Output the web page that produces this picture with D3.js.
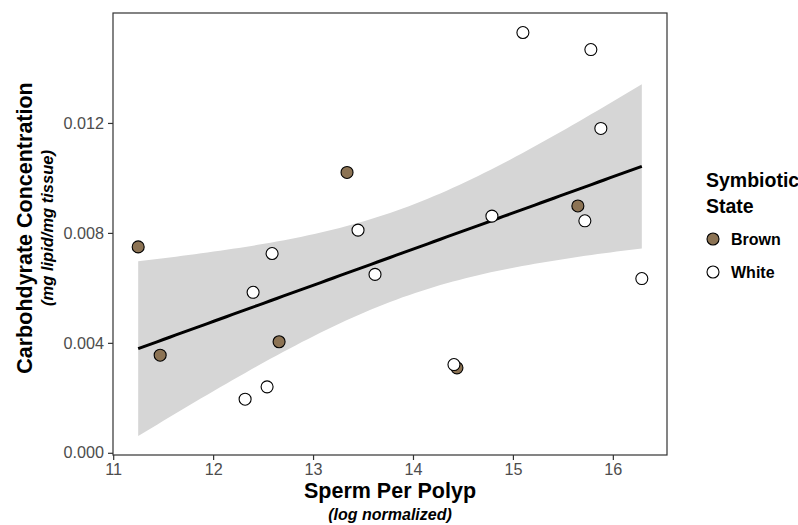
<!DOCTYPE html>
<html>
<head>
<meta charset="utf-8">
<script src="https://cdn.jsdelivr.net/npm/d3@7"></script>
<style>
  body { margin: 0; background: #fff; }
  svg { display: block; font-family: "Liberation Sans", Arial, sans-serif; }
</style>
</head>
<body>
<svg id="chart" width="798" height="525"></svg>
<script>
// values
const brownSperm = [11.25, 11.47, 12.66, 13.34, 14.44, 15.65];
const brownCarb = [0.00749, 0.00355, 0.00404, 0.01020, 0.00309, 0.00898];
const whiteSperm = [12.32, 12.40, 12.54, 12.59, 13.45, 13.62, 14.41, 14.79, 15.10, 15.72, 15.78, 15.88, 16.29];
const whiteCarb = [0.00195, 0.00584, 0.00240, 0.00725, 0.00810, 0.00649, 0.00321, 0.00861, 0.01529, 0.00844, 0.01467, 0.01180, 0.00634];
const xTicks = [11, 12, 13, 14, 15, 16];
const yTicks = [0, 0.004, 0.008, 0.012];
const states = ['Brown', 'White'];
const stateColors = ['#8c7354', '#ffffff'];

const svg = d3.select('#chart');
const panel = { left: 113, right: 667, top: 13, bottom: 455 };

const x = d3.scaleLinear().domain([10.998, 16.542]).range([panel.left, panel.right]);
const y = d3.scaleLinear().domain([-0.00008, 0.016]).range([panel.bottom, panel.top]);

// all points together for the linear fit
let points = [];
brownSperm.forEach((v, i) => points.push({ x: v, y: brownCarb[i], state: 'Brown' }));
whiteSperm.forEach((v, i) => points.push({ x: v, y: whiteCarb[i], state: 'White' }));

/**
 * ordinary least squares with a 95% confidence band, like geom_smooth(method = lm)
 */
function linearFit(data) {
    const n = data.length;
    const mx = d3.mean(data, d => d.x);
    const my = d3.mean(data, d => d.y);
    let sxx = 0, sxy = 0;
    data.forEach(d => {
        sxx += (d.x - mx) * (d.x - mx);
        sxy += (d.x - mx) * (d.y - my);
    });
    const slope = sxy / sxx;
    const icpt = my - slope * mx;
    let sse = 0;
    data.forEach(d => {
        const r = d.y - (icpt + slope * d.x);
        sse += r * r;
    });
    const s = Math.sqrt(sse / (n - 2));
    const t = 2.1098; // t(0.975, df = 17)
    const [x0, x1] = d3.extent(data, d => d.x);
    const band = d3.range(81).map(i => {
        const xv = x0 + (x1 - x0) * i / 80;
        const fit = icpt + slope * xv;
        const se = s * Math.sqrt(1 / n + (xv - mx) * (xv - mx) / sxx);
        return { x: xv, fit: fit, lo: fit - t * se, hi: fit + t * se };
    });
    return band;
}

const band = linearFit(points);

svg.append('path')
    .datum(band)
    .attr('fill', '#d6d6d6')
    .attr('d', d3.area().x(d => x(d.x)).y0(d => y(d.lo)).y1(d => y(d.hi)));

svg.append('path')
    .datum(band)
    .attr('fill', 'none')
    .attr('stroke', '#000')
    .attr('stroke-width', 3)
    .attr('d', d3.line().x(d => x(d.x)).y(d => y(d.fit)));

// brown first so the white ones sit on top
svg.append('g')
    .selectAll('circle')
    .data(points)
    .join('circle')
    .attr('cx', d => x(d.x))
    .attr('cy', d => y(d.y))
    .attr('r', 6)
    .attr('fill', d => stateColors[states.indexOf(d.state)])
    .attr('stroke', '#000')
    .attr('stroke-width', 1.1);

// panel border
svg.append('rect')
    .attr('x', panel.left)
    .attr('y', panel.top)
    .attr('width', panel.right - panel.left)
    .attr('height', panel.bottom - panel.top)
    .attr('fill', 'none')
    .attr('stroke', '#333')
    .attr('stroke-width', 1.2);

// axes
const xAxis = svg.append('g')
    .attr('transform', `translate(0,${panel.bottom})`)
    .call(d3.axisBottom(x).tickValues(xTicks).tickSize(5).tickPadding(3).tickFormat(d3.format('d')));
const yAxis = svg.append('g')
    .attr('transform', `translate(${panel.left},0)`)
    .call(d3.axisLeft(y).tickValues(yTicks).tickSize(5).tickPadding(4).tickFormat(d3.format('.3f')));

[xAxis, yAxis].forEach(g => {
    g.select('.domain').remove();
    g.selectAll('.tick line').attr('stroke', '#333').attr('stroke-width', 1.2);
    g.selectAll('.tick text')
        .attr('fill', '#4d4d4d')
        .style('font-size', '16.2px')
        .style('font-family', '"Liberation Sans", Arial, sans-serif');
});

// axis titles
const xMid = (panel.left + panel.right) / 2;
svg.append('text')
    .attr('x', xMid).attr('y', 498)
    .attr('text-anchor', 'middle')
    .style('font-size', '21.5px').style('font-weight', 'bold')
    .text('Sperm Per Polyp');
svg.append('text')
    .attr('x', xMid).attr('y', 520)
    .attr('text-anchor', 'middle')
    .style('font-size', '16px').style('font-weight', 'bold').style('font-style', 'italic')
    .text('(log normalized)');

const yMid = 228;
svg.append('text')
    .attr('transform', `translate(32,${yMid}) rotate(-90)`)
    .attr('text-anchor', 'middle')
    .style('font-size', '21.5px').style('font-weight', 'bold')
    .text('Carbohdyrate Concentration');
svg.append('text')
    .attr('transform', `translate(53,${yMid}) rotate(-90)`)
    .attr('text-anchor', 'middle')
    .style('font-size', '16.5px').style('font-weight', 'bold').style('font-style', 'italic')
    .text('(mg lipid/mg tissue)');

// legend
const legend = svg.append('g');
legend.append('text')
    .attr('x', 706).attr('y', 187)
    .style('font-size', '19.5px').style('font-weight', 'bold')
    .text('Symbiotic');
legend.append('text')
    .attr('x', 706).attr('y', 213)
    .style('font-size', '19.5px').style('font-weight', 'bold')
    .text('State');

const keys = legend.selectAll('g.key')
    .data(states)
    .join('g')
    .attr('class', 'key')
    .attr('transform', (d, i) => `translate(713,${239 + i * 33})`);
keys.append('circle')
    .attr('r', 6)
    .attr('fill', (d, i) => stateColors[i])
    .attr('stroke', '#000')
    .attr('stroke-width', 1.1);
keys.append('text')
    .attr('x', 18).attr('y', 5.5)
    .style('font-size', '16px').style('font-weight', 'bold')
    .text(d => d);
</script>
</body>
</html>
